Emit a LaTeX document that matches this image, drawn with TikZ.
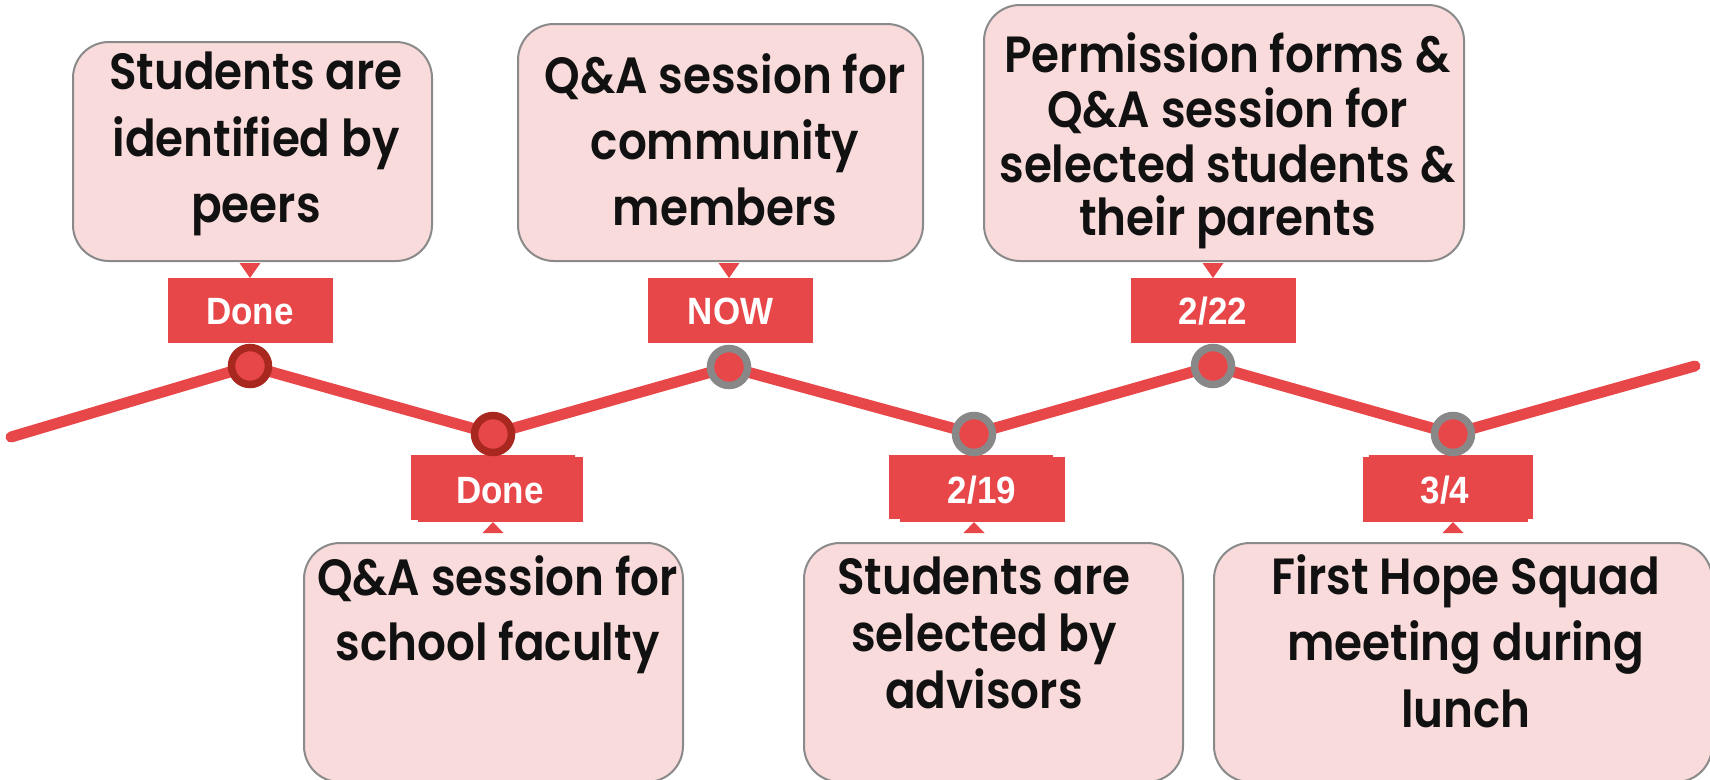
\documentclass[tikz,border=0pt]{standalone}
\usepackage{fontspec}
\newfontfamily\boxfont{Poppins}[FakeStretch=0.89, BoldFont={Poppins SemiBold}]
\newfontfamily\labfont{Liberation Sans}[FakeStretch=0.92]
\definecolor{tlred}{HTML}{E8474A}
\definecolor{tldark}{HTML}{A8281F}
\definecolor{tlgray}{HTML}{888888}
\definecolor{cardfill}{HTML}{F9DBDB}
\definecolor{cardline}{HTML}{8A8A8A}
\definecolor{txtblack}{HTML}{111111}
\newlength\qaw
\begin{document}
\settowidth\qaw{\boxfont\bfseries\fontsize{10}{12}\selectfont Q\&A session for}%
\ifdim\qaw>1pt \pgfmathsetmacro\bfsz{10*361/\qaw}\else\def\bfsz{46}\fi
\begin{tikzpicture}[x=1pt,y=-1pt,
 card/.style={draw=cardline, line width=2, fill=cardfill, rounded corners=36, inner sep=0, outer sep=0},
 lab/.style={fill=tlred, text=white, font=\labfont\bfseries\fontsize{38}{38}\selectfont, minimum width=165, minimum height=65, inner sep=0, outer sep=0, text height=27, text depth=0},
 labshade/.style={fill=tlred},
 ptr/.style={fill=tlred},
 donedot/.style={circle, draw=tldark, fill=tlred, line width=7.5, minimum size=37, inner sep=0},
 tododot/.style={circle, draw=tlgray, fill=tlred, line width=7.5, minimum size=37, inner sep=0},
 track/.style={draw=tlred, line width=11, line cap=round, line join=round},
 btxt/.style={font=\boxfont\bfseries\fontsize{\bfsz}{\bfsz}\selectfont, text=txtblack, inner sep=0, anchor=base},
]
\clip (0,0) rectangle (1710,779);

% cards
\node[card, minimum width=359, minimum height=219] (b1) at (252.5,151.5) {};
\node[card, minimum width=405, minimum height=237] (b2) at (720.5,142.5) {};
\node[card, minimum width=480, minimum height=256] (b3) at (1224,133) {};
\node[card, minimum width=379, minimum height=239] (b4) at (493.5,662.5) {};
\node[card, minimum width=379, minimum height=239] (b5) at (993.5,662.5) {};
\node[card, minimum width=498, minimum height=239] (b6) at (1463,662.5) {};

% card texts
\node[btxt] (t1a) at (256,89) {Students are};
\node[btxt] (t1b) at (256,156) {identified by};
\node[btxt] (t1c) at (256,222) {peers};
\node[btxt] (t2a) at (725,93) {Q\&A session for};
\node[btxt] (t2b) at (725,159) {community};
\node[btxt] (t2c) at (725,225) {members};
\node[btxt] (t3a) at (1227.5,72) {Permission forms \&};
\node[btxt] (t3b) at (1227.5,127) {Q\&A session for};
\node[btxt] (t3c) at (1227.5,182) {selected students \&};
\node[btxt] (t3d) at (1227.5,235) {their parents};
\node[btxt] (t4a) at (497.5,595) {Q\&A session for};
\node[btxt] (t4b) at (497.5,660) {school faculty};
\node[btxt] (t5a) at (984,594) {Students are};
\node[btxt] (t5b) at (984,651) {selected by};
\node[btxt] (t5c) at (984,708) {advisors};
\node[btxt] (t6a) at (1466,594) {First Hope Squad};
\node[btxt] (t6b) at (1466,660) {meeting during};
\node[btxt] (t6c) at (1466,727) {lunch};

% timeline points
\coordinate (s) at (11,437);
\coordinate (p1) at (250,366);
\coordinate (p2) at (493,434);
\coordinate (p3) at (729,367);
\coordinate (p4) at (974,434);
\coordinate (p5) at (1213,366);
\coordinate (p6) at (1453,434);
\coordinate (e) at (1695,366);

% label shadows (slightly offset duplicates)
\fill[labshade] (411,455) rectangle (575,520);
\fill[labshade] (889,455) rectangle (1053,519);
\fill[labshade] (1369,455) rectangle (1533,519);

% labels
\node[lab] (l1) at (250,310.5) {Done};
\node[lab] (l3) at (730.5,310.5) {NOW};
\node[lab] (l5) at (1213,310.5) {2/22};
\node[lab] (l2) at (500,489.5) {Done};
\node[lab] (l4) at (982,489.5) {2/19};
\node[lab] (l6) at (1445,489.5) {3/4};

% pointers
\fill[ptr] (l1.north -| p1) -- ++(-10.5,-15) -- ++(21,0) -- cycle;
\fill[ptr] (l3.north -| p3) -- ++(-10.5,-15) -- ++(21,0) -- cycle;
\fill[ptr] (l5.north -| p5) -- ++(-10.5,-15) -- ++(21,0) -- cycle;
\fill[ptr] (l2.south -| p2) -- ++(-10.5,11) -- ++(21,0) -- cycle;
\fill[ptr] (l4.south -| p4) -- ++(-10.5,11) -- ++(21,0) -- cycle;
\fill[ptr] (l6.south -| p6) -- ++(-10.5,11) -- ++(21,0) -- cycle;

% track
\draw[track] (s) -- (p1) -- (p2) -- (p3) -- (p4) -- (p5) -- (p6) -- (e);

% dots
\node[donedot] (c1) at (p1) {};
\node[donedot] (c2) at (p2) {};
\node[tododot] (c3) at (p3) {};
\node[tododot] (c4) at (p4) {};
\node[tododot] (c5) at (p5) {};
\node[tododot] (c6) at (p6) {};
\end{tikzpicture}
\end{document}
